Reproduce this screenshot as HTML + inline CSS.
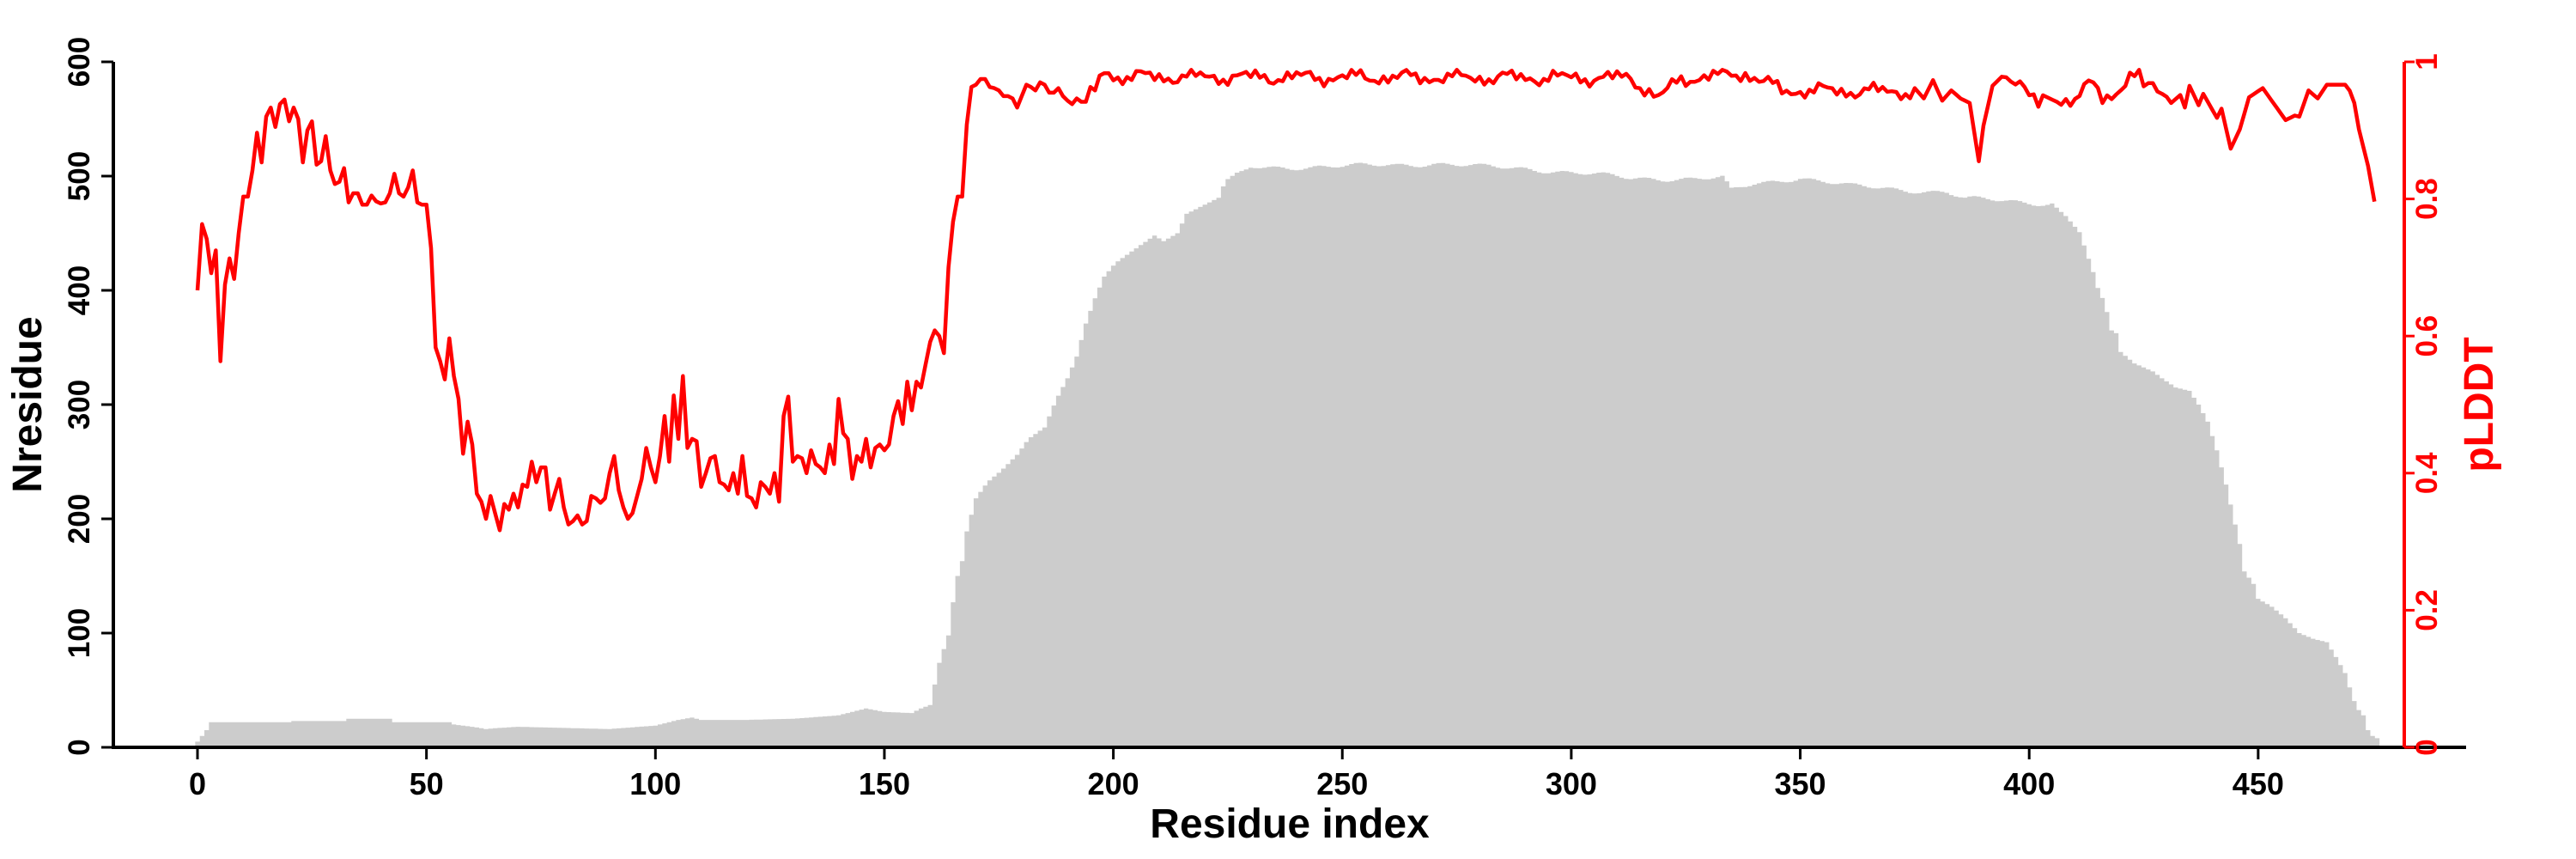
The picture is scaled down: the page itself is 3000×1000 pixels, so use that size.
<!DOCTYPE html>
<html><head><meta charset="utf-8"><style>
html,body{margin:0;padding:0;background:#fff;width:3000px;height:1000px;overflow:hidden}
svg text{font-family:"Liberation Sans",Arial,sans-serif;font-weight:bold}
</style></head><body>
<svg id="s" width="3000" height="1000" xmlns="http://www.w3.org/2000/svg">
<g id="bars"></g>
<g id="line"></g>
<g id="axes" stroke-linecap="butt"></g>
</svg>
<script>
var X0=230,DX=5.333,Y0=870,YT=72,H=Y0-YT;
function X(i){return X0+DX*i;}
function YN(n){return Y0-n*H/600;}
function interp(kp,n){var o=[];for(var i=0;i<=n;i++){for(var k=0;k<kp.length-1;k++){if(i>=kp[k][0]&&i<=kp[k+1][0]){var a=kp[k],b=kp[k+1];var t=(b[0]==a[0])?0:(i-a[0])/(b[0]-a[0]);o.push(a[1]+t*(b[1]-a[1]));break;}}if(o.length<=i)o.push(kp[kp.length-1][1]);}return o;}
var redRaw=[400,458,445,415,435,338,405,428,410,450,482,482,505,538,512,552,560,543,563,567,548,560,550,512,540,548,510,513,535,505,493,495,507,477,485,485,475,475,483,478,476,477,485,502,485,482,490,505,477,475,475,437,350,338,322,358,325,305,257,285,265,222,215,200,220,205,190,213,208,222,210,230,228,250,232,245,245,208,222,235,210,195,198,203,195,198,220,218,214,218,240,255,225,210,200,205,220,235,262,245,232,255,290,250,308,270,325,262,270,268,228,240,253,255,232,230,225,240,222,255,220,218,210,232,228,222,240,215,290,307,250,255,253,240,260,248,245,240,265,248,305,275,270,235,255,250,270,245,262,265,260,265,290,303,283,320,295,320,315,335,355,365,360,345,420,460,482,482,545,578,580,585,585,578,577,575,570,570,568,560,570,580,578,575,582,580,573,573,577,570,566,563,568,565,565,578,575,588,590,590];
var kpTail=[[199,590],[313,589],[319,571],[324,588],[338,593],[346,578],[375,577],[377,568],[379,584],[381,566],[383,575],[385,568],[387,564],[389,513],[390,544],[392,579],[394,587],[398,585],[402,562],[404,575],[407,570],[410,568],[412,578],[414,584],[416,573],[419,576],[422,589],[424,588],[425,581],[427,586],[431,564],[433,571],[434,560],[435,579],[437,562],[438,572],[441,551],[442,559],[444,524],[446,541],[448,569],[451,577],[456,549],[458,553],[459,552],[461,575],[463,568],[465,580],[469,580],[470.7,571],[472,541],[474.5,501],[475.4,459]];
var tail=interp(kpTail,476);
var red=[];for(var i=0;i<=199;i++)red.push(redRaw[i]);
function nz(i){return Math.sin(i*2.7)*3+Math.sin(i*0.55+1)*4+Math.sin(i*5.1)*1.5;}
for(var i=200;i<=475;i++){var v=tail[i];if(i<375||(i>395&&i<430))v+=nz(i)-3;red.push(Math.min(v,593));}
var pts=[];for(var i=0;i<red.length;i++){var xi=i<=474?i:(i==475?475.4:i);pts.push(X(xi).toFixed(1)+","+YN(red[i]).toFixed(1));}
document.getElementById("line").innerHTML='<polyline points="'+pts.join(" ")+'" fill="none" stroke="#ff0000" stroke-width="4.5" stroke-linejoin="round"/>';
var kpG=[[0,5],[1,10],[2,15],[3,22],[20,22],[21,23],[32,23],[33,25],[42,25],[43,22],[55,22],[56,20],[60,18],[63,16],[66,17],[70,18],[80,17],[90,16],[100,19],[105,24],[108,26],[110,24],[120,24],[130,25],[140,28],[146,34],[150,31],[156,30],[158,34],[160,37],[161,55],[162,74],[164,98],[165,127],[166,150],[167,163],[168,189],[170,218],[172.5,232],[175.5,242],[179,256],[181.5,270],[185,280],[187.5,304],[190,323],[192,342],[194,371],[196,393],[198,412],[200.5,424],[204,434],[209,448],[211,443],[214,450],[216,467],[218.5,472],[223,481],[224.5,496],[227,503],[230.5,508],[250,508],[260,510],[270,511],[280,508],[290,507],[313,498],[333,498],[335,487],[340,493],[350,499],[361,491],[382,486],[386,480],[405,476],[408,465],[411,451],[414,416],[415,402],[416.5,389],[418,365],[419.6,361],[420,346],[423,336],[427,329],[429,323],[432,315],[435,312],[437,300],[439,285],[441,260],[443,230],[445,195],[446,178],[447,154],[449,143],[450,130],[453,123],[456,113],[459,100],[462,95],[465,92],[467,79],[469,65],[470.6,45],[471.5,35],[473,28],[474,15],[475,10],[476,8]];
var g=interp(kpG,476);
function gn(i){return (i>230&&i<405)?(Math.sin(i*0.7)*1.5+Math.sin(i*0.23)*1.5):0;}
var d="M"+(X(0)-DX/2).toFixed(1)+","+Y0;
for(var i=0;i<=476;i++){var y=YN(g[i]+gn(i)).toFixed(1);d+=" L"+(X(i)-DX/2).toFixed(1)+","+y+" L"+(X(i)+DX/2).toFixed(1)+","+y;}
d+=" L"+(X(476)+DX/2).toFixed(1)+","+Y0+" Z";
document.getElementById("bars").innerHTML='<path d="'+d+'" fill="#cccccc"/>';
var a='';
a+='<line x1="130" y1="'+Y0+'" x2="2872" y2="'+Y0+'" stroke="#000" stroke-width="4"/>';
a+='<line x1="132" y1="'+YT+'" x2="132" y2="'+(Y0+2)+'" stroke="#000" stroke-width="4"/>';
for(var n=0;n<=600;n+=100){var y=YN(n);a+='<line x1="118" y1="'+y+'" x2="132" y2="'+y+'" stroke="#000" stroke-width="3"/>';a+='<text transform="translate(104,'+y+') rotate(-90)" text-anchor="middle" font-size="35" fill="#000">'+n+'</text>';}
for(var r=0;r<=450;r+=50){var x=X(r);a+='<line x1="'+x+'" y1="'+Y0+'" x2="'+x+'" y2="'+(Y0+14)+'" stroke="#000" stroke-width="3"/>';a+='<text x="'+x+'" y="925" text-anchor="middle" font-size="36" fill="#000">'+r+'</text>';}
a+='<line x1="2800" y1="'+YT+'" x2="2800" y2="'+Y0+'" stroke="#ff0000" stroke-width="4"/>';
var lab=["0","0.2","0.4","0.6","0.8","1"];
for(var k=0;k<=5;k++){var y=Y0-H*k/5;a+='<line x1="2800" y1="'+y+'" x2="2812" y2="'+y+'" stroke="#ff0000" stroke-width="3"/>';a+='<text transform="translate(2838,'+y+') rotate(-90)" text-anchor="middle" font-size="35" fill="#ff0000">'+lab[k]+'</text>';}
a+='<text x="1502" y="975" text-anchor="middle" font-size="48" fill="#000">Residue index</text>';
a+='<text transform="translate(48,471) rotate(-90)" text-anchor="middle" font-size="48" fill="#000">Nresidue</text>';
a+='<text transform="translate(2903,471) rotate(-90)" text-anchor="middle" font-size="48" fill="#ff0000">pLDDT</text>';
document.getElementById("axes").innerHTML=a;
</script>
</body></html>
